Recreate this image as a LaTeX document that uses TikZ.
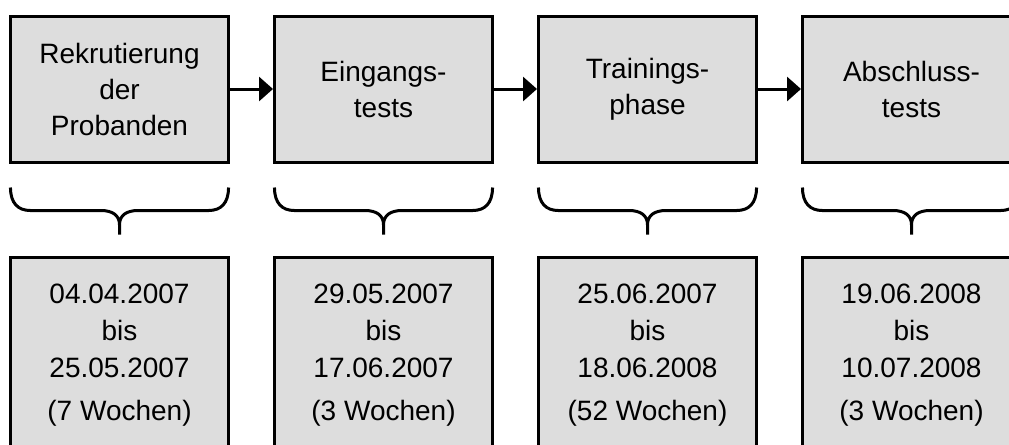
\documentclass[tikz,border=0pt]{standalone}
\usepackage{fontspec}
\setmainfont{Liberation Sans}
\usetikzlibrary{positioning,arrows.meta}
\definecolor{boxgray}{RGB}{221,221,221}

\begin{document}
\begin{tikzpicture}[node distance=198pt,on grid,
    phase/.style={draw,line width=2.25pt,fill=boxgray,minimum width=163.5pt,
      minimum height=109.5pt,align=center,inner sep=0pt,
      font=\fontsize{21}{27}\selectfont},
    termin/.style={phase,minimum height=147pt,font=\fontsize{21}{27.75}\selectfont},
    arr/.style={line width=2.25pt,-{Triangle[length=10.5pt,width=18pt]}},
    klammer/.style={line width=2.25pt}]
    \useasboundingbox (0,0) rectangle (756.75pt,-333pt);
    \node[phase] (rek) at (89.625pt,-66.75pt) {Rekrutierung\\der\\Probanden};
    \node[phase] (ein) [right = of rek] {Eingangs-\\tests};
    \node[phase] (tra) [right = of ein] {Trainings-\\phase};
    \node[phase] (abs) [right = of tra] {Abschluss-\\tests};
    \node[termin] (trek) [below = 199.5pt of rek] {04.04.2007\\bis\\25.05.2007\\[4pt](7 Wochen)};
    \node[termin] (tein) [below = 199.5pt of ein] {29.05.2007\\bis\\17.06.2007\\[4pt](3 Wochen)};
    \node[termin] (ttra) [below = 199.5pt of tra] {25.06.2007\\bis\\18.06.2008\\[4pt](52 Wochen)};
    \node[termin] (tabs) [below = 199.5pt of abs] {19.06.2008\\bis\\10.07.2008\\[4pt](3 Wochen)};
    \path[arr]
    (rek) edge (ein)
    (ein) edge (tra)
    (tra) edge (abs)
    ;
    % geschweifte Klammern unter den Phasen
    \foreach \n in {rek,ein,tra,abs}
      \draw[klammer]
      ([xshift=1.1pt,yshift=-18pt]\n.south west)
        .. controls +(0,-12pt) and +(-9pt,0) .. ([xshift=16pt,yshift=-35.25pt]\n.south west)
        -- ([xshift=-14pt,yshift=-35.25pt]\n.south)
        .. controls +(9pt,0) and +(0,7pt) .. ([yshift=-46pt]\n.south)
        .. controls +(0,7pt) and +(-9pt,0) .. ([xshift=14pt,yshift=-35.25pt]\n.south)
        -- ([xshift=-16pt,yshift=-35.25pt]\n.south east)
        .. controls +(9pt,0) and +(0,-12pt) .. ([xshift=-1.1pt,yshift=-18pt]\n.south east)
      ([yshift=-46pt]\n.south) -- ([yshift=-53.25pt]\n.south);
  \end{tikzpicture}
\end{document}
